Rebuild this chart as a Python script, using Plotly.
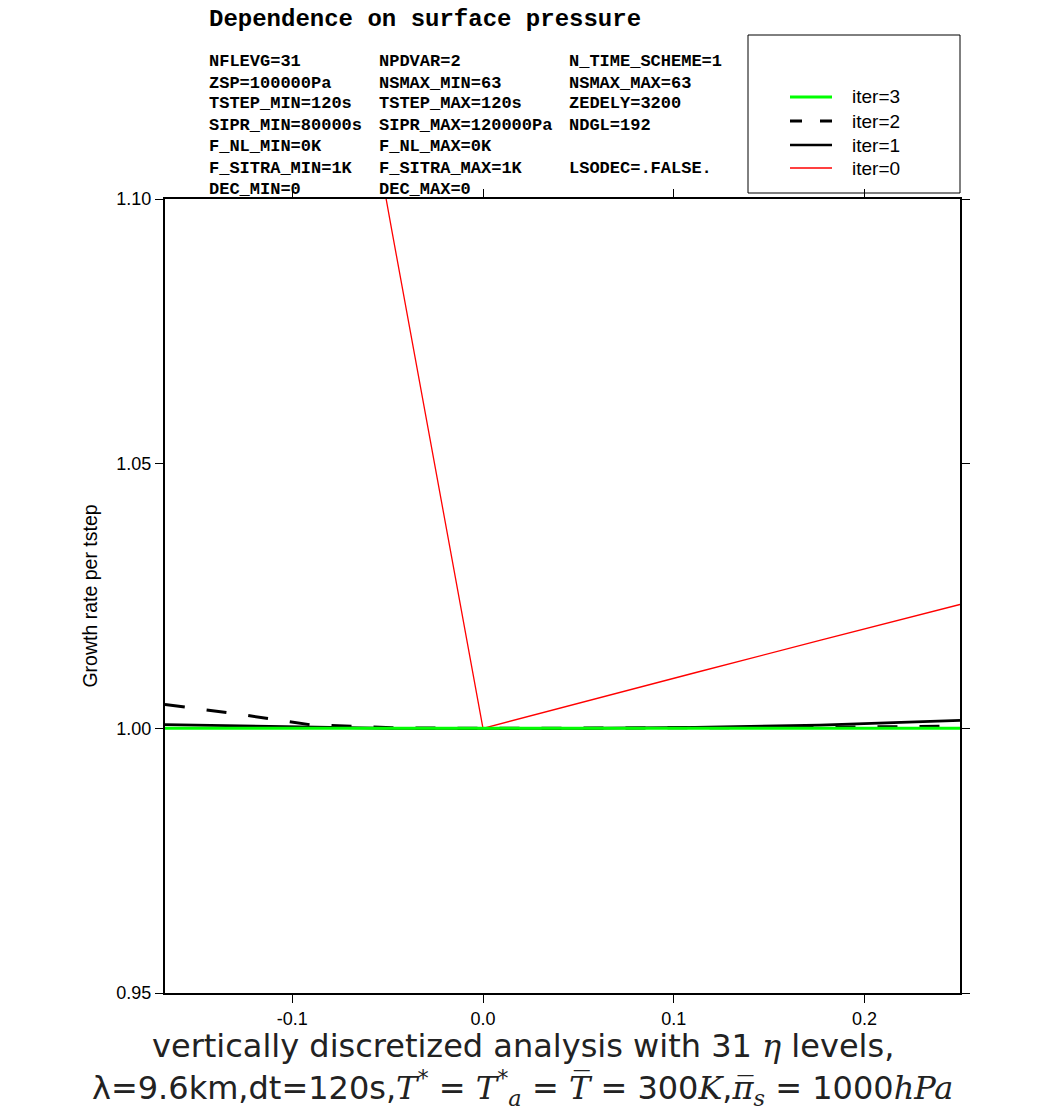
import plotly.graph_objects as go

# Surface-pressure offsets: x = ZSP / SIPR - 1 for SIPR from 120000 Pa down to 80000 Pa
x_vals = [-0.1667, -0.1304, -0.0909, -0.0476, 0.0, 0.0526, 0.1111, 0.1765, 0.25]

# Growth rate per time step for each number of iterations
iter0 = [1.360, 1.270, 1.180, 1.0937, 1.0000, 1.0050, 1.0105, 1.0166, 1.0234]
iter1 = [1.0007, 1.0005, 1.0002, 1.0000, 1.0000, 1.0000, 1.0002, 1.0006, 1.0015]
iter2 = [1.0045, 1.0028, 1.0007, 1.0001, 1.0000, 1.0000, 1.0001, 1.0002, 1.0004]
iter3 = [1.0000, 1.0000, 1.0000, 1.0000, 1.0000, 1.0000, 1.0000, 1.0000, 1.0000]

series_names = ["iter=0", "iter=1", "iter=2", "iter=3"]
series_vals = [iter0, iter1, iter2, iter3]
series_color = ["#ff0000", "#000000", "#000000", "#00ff00"]
series_width = [1.3, 2.6, 3.0, 3.0]
series_dash = ["solid", "solid", "20px,22px", "solid"]
legend_dash = ["solid", "solid", "12px,18px", "solid"]

x_ticks = [-0.1, 0.0, 0.1, 0.2]
y_ticks = [0.95, 1.00, 1.05, 1.10]

title_text = "Dependence on surface pressure"
param_columns = [
    ["NFLEVG=31", "ZSP=100000Pa", "TSTEP_MIN=120s", "SIPR_MIN=80000s",
     "F_NL_MIN=0K", "F_SITRA_MIN=1K", "DEC_MIN=0"],
    ["NPDVAR=2", "NSMAX_MIN=63", "TSTEP_MAX=120s", "SIPR_MAX=120000Pa",
     "F_NL_MAX=0K", "F_SITRA_MAX=1K", "DEC_MAX=0"],
    ["N_TIME_SCHEME=1", "NSMAX_MAX=63", "ZEDELY=3200", "NDGL=192",
     "", "LSODEC=.FALSE.", ""],
]

W, H = 1045, 1111
L, R, T, B = 165, 85, 199, 118
PW, PH = W - L - R, H - T - B


def px(xp):
    # page pixel column -> paper fraction (relative to the plot area)
    return (xp - L) / PW


def py(yp):
    # page pixel row -> paper fraction (relative to the plot area)
    return 1 - (yp - T) / PH


fig = go.Figure()
for name, vals, col, wid, dash in zip(series_names, series_vals, series_color,
                                      series_width, series_dash):
    fig.add_trace(go.Scatter(
        x=x_vals, y=vals, mode="lines", name=name,
        line=dict(color=col, width=wid, dash=dash),
        showlegend=False, cliponaxis=True,
    ))

axis_common = dict(
    showline=True, linecolor="black", linewidth=2, mirror="ticks",
    ticks="outside", ticklen=8, tickcolor="black", tickwidth=1,
    showgrid=False, zeroline=False,
    tickfont=dict(family="Liberation Sans", size=18, color="black"),
)

fig.update_layout(
    width=W, height=H,
    margin=dict(l=L, r=R, t=T, b=B, autoexpand=False),
    paper_bgcolor="white", plot_bgcolor="white",
    showlegend=False,
    xaxis=dict(range=[-1/6, 0.25], tickvals=x_ticks,
               ticktext=[f"{v:.1f}" for v in x_ticks], **axis_common),
    yaxis=dict(range=[0.95, 1.10], tickvals=y_ticks,
               ticktext=[f"{v:.2f}" for v in y_ticks],
               title=dict(text="Growth rate per tstep", standoff=14,
                          font=dict(family="Liberation Sans", size=19.5, color="black")),
               **axis_common),
)

annotations = []
# Title
annotations.append(dict(
    x=px(207), y=py(19), xref="paper", yref="paper", xanchor="left", yanchor="middle",
    text=f"<b>{title_text}</b>", showarrow=False,
    font=dict(family="Liberation Mono", size=24, color="black"),
))
# Parameter block
col_x = [207, 377, 567]
row_y = [61, 83, 104, 126, 147, 168, 190]
for cx, col in zip(col_x, param_columns):
    for ry, txt in zip(row_y, col):
        if not txt:
            continue
        annotations.append(dict(
            x=px(cx), y=py(ry), xref="paper", yref="paper",
            xanchor="left", yanchor="middle", text=f"<b>{txt}</b>", showarrow=False,
            font=dict(family="Liberation Mono", size=17, color="black"),
        ))

# Legend box with line samples
shapes = [dict(type="rect", xref="paper", yref="paper",
               x0=px(748), x1=px(960), y0=py(193), y1=py(35),
               line=dict(color="black", width=1), fillcolor="white", layer="below")]
leg_rows = [("iter=3", 3), ("iter=2", 2), ("iter=1", 1), ("iter=0", 0)]
leg_y = [97, 121, 145, 168]
for (lab, idx), ly in zip(leg_rows, leg_y):
    shapes.append(dict(type="line", xref="paper", yref="paper",
                       x0=px(790), x1=px(832), y0=py(ly), y1=py(ly),
                       line=dict(color=series_color[idx], width=series_width[idx],
                                 dash=legend_dash[idx])))
    annotations.append(dict(
        x=px(850), y=py(ly), xref="paper", yref="paper", xanchor="left", yanchor="middle",
        text=lab, showarrow=False,
        font=dict(family="Liberation Sans", size=19, color="black"),
    ))

# Axis caption in two lines
serif = "font-family:'DejaVu Serif'"


def m(s):
    return f"<span style=\"{serif}\"><i>{s}</i></span>"


line1 = f"vertically discretized analysis with 31 {m('η')} levels,"
line2 = ("λ=9.6km,dt=120s,"
         f"{m('T')}<sup>*</sup> = {m('T')}<sup>*</sup><sub>{m('a')}</sub> = "
         f"{m('T' + chr(0x305))} = 300{m('K')},"
         f"{m('π' + chr(0x305))}<sub>{m('s')}</sub> = 1000{m('hPa')}")
cap_x = (W / 2 - L) / PW
annotations.append(dict(
    x=cap_x, y=py(1046), xref="paper", yref="paper",
    xanchor="center", yanchor="middle",
    text=line1, showarrow=False,
    font=dict(family="DejaVu Sans", size=32, color="#222222"),
))
annotations.append(dict(
    x=cap_x, y=py(1088), xref="paper", yref="paper",
    xanchor="center", yanchor="middle",
    text=line2, showarrow=False,
    font=dict(family="DejaVu Sans", size=32, color="#222222"),
))

fig.update_layout(annotations=annotations, shapes=shapes)
fig.write_html("out.html")
